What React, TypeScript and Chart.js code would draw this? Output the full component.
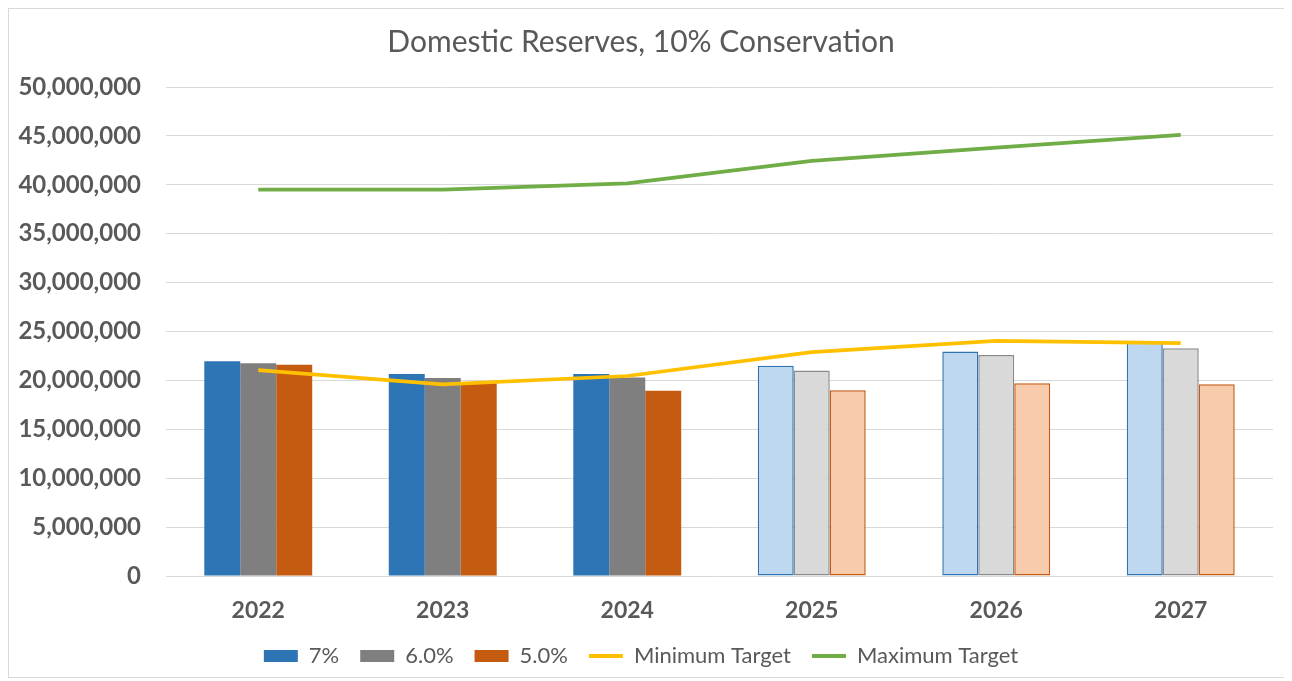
import React, { useEffect, useRef } from "react";
import { Chart, registerables } from "chart.js";

Chart.register(...registerables);

const years = ["2022", "2023", "2024", "2025", "2026", "2027"];
const rate7 = [21950000, 20650000, 20650000, 21500000, 22950000, 23850000];
const rate6 = [21750000, 20250000, 20300000, 21000000, 22600000, 23300000];
const rate5 = [21600000, 19800000, 18950000, 19000000, 19700000, 19600000];
const minTarget = [21050000, 19600000, 20450000, 22900000, 24050000, 23800000];
const maxTarget = [39500000, 39500000, 40150000, 42450000, 43800000, 45100000];
const projected = [false, false, false, true, true, true];

const FONT = "Lato, 'Open Sans', sans-serif";

export default function App() {
  const ref = useRef<HTMLCanvasElement | null>(null);

  useEffect(() => {
    if (!ref.current) return;
    const barSet = (label: string, data: number[], dark: string, light: string, edge: string) => ({
      type: "bar" as const,
      label,
      data,
      order: 1,
      backgroundColor: projected.map((p) => (p ? light : dark)),
      borderColor: projected.map((p) => (p ? edge : dark)),
      borderWidth: projected.map((p) => (p ? 1.5 : 0)),
      borderSkipped: false,
      categoryPercentage: 0.585,
      barPercentage: 1,
    });
    const lineSet = (label: string, data: number[], color: string) => ({
      type: "line" as const,
      label,
      data,
      order: 0,
      borderColor: color,
      backgroundColor: color,
      borderWidth: 3.75,
      pointRadius: 0,
      pointHoverRadius: 0,
      tension: 0,
      fill: false,
      pointStyle: "line",
    });
    const chart = new Chart(ref.current, {
      type: "bar",
      data: {
        labels: years,
        datasets: [
          barSet("7%", rate7, "#2E75B6", "#BDD7EE", "#2E75B6"),
          barSet("6.0%", rate6, "#7F7F7F", "#D9D9D9", "#8A8A8A"),
          barSet("5.0%", rate5, "#C55A11", "#F8CBAD", "#C55A11"),
          lineSet("Minimum Target", minTarget, "#FFC000"),
          lineSet("Maximum Target", maxTarget, "#70AD47"),
        ] as any,
      },
      options: {
        animation: false,
        responsive: true,
        maintainAspectRatio: false,
        layout: { padding: { left: 0, right: 11, top: 0, bottom: 0 } },
        plugins: {
          tooltip: { enabled: false },
          title: {
            display: true,
            text: "Domestic Reserves, 10% Conservation",
            color: "#595959",
            font: { family: FONT, size: 30, weight: "normal" },
            padding: { top: 15, bottom: 27 },
          },
          legend: {
            position: "bottom",
            labels: {
              color: "#595959",
              font: { family: FONT, size: 22 },
              usePointStyle: true,
              pointStyleWidth: 34,
              boxHeight: 12,
              padding: 21,
              sort: (a: any, b: any) => a.datasetIndex - b.datasetIndex,
              generateLabels: (chart: any) => {
                const items = Chart.defaults.plugins.legend.labels.generateLabels(chart);
                return items.map((it: any) => {
                  const ds = chart.data.datasets[it.datasetIndex];
                  if (ds.type === "line") {
                    return { ...it, pointStyle: "line", strokeStyle: ds.borderColor, lineWidth: 4 };
                  }
                  return { ...it, pointStyle: "rect", lineWidth: 0 };
                });
              },
            },
          },
        },
        scales: {
          x: {
            grid: { display: false, drawTicks: false },
            border: { display: false },
            afterFit: (scale: any) => {
              scale.height = 48;
            },
            ticks: {
              color: "#595959",
              font: { family: FONT, size: 23, weight: "bold" },
              padding: 21,
            },
          },
          y: {
            min: 0,
            max: 50000000,
            grid: { color: "#D9D9D9", lineWidth: 1, drawTicks: false },
            border: { display: false },
            afterFit: (scale: any) => {
              scale.width = 157;
            },
            ticks: {
              stepSize: 5000000,
              color: "#595959",
              font: { family: FONT, size: 24, weight: "bold" },
              padding: 25,
              callback: (v: any) => Number(v).toLocaleString("en-US"),
            },
          },
        },
      },
    });
    return () => chart.destroy();
  }, []);

  return (
    <div
      style={{
        position: "relative",
        width: 1275,
        height: 668,
        border: "1px solid #D9D9D9",
        background: "#fff",
      }}
    >
      <canvas ref={ref} />
    </div>
  );
}
